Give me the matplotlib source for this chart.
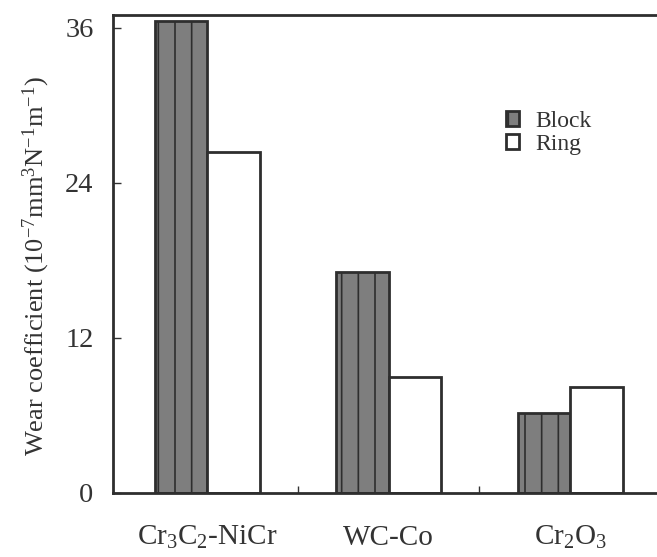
import numpy as np
import matplotlib
matplotlib.use("Agg")
import matplotlib.pyplot as plt

plt.rcParams['font.family'] = ['Liberation Serif', 'DejaVu Serif']
plt.rcParams['mathtext.fontset'] = 'custom'
plt.rcParams['mathtext.rm'] = 'Liberation Serif'
plt.rcParams['mathtext.it'] = 'Liberation Serif:italic'
plt.rcParams['hatch.color'] = '#9a9a9a'
plt.rcParams['hatch.linewidth'] = 1.2

# 数据
coatings = ['Cr$_3$C$_2$-NiCr', 'WC-Co', 'Cr$_2$O$_3$']
block = [36.5, 17.1, 6.2]
ring = [26.4, 9.0, 8.2]
yticks = [0, 12, 24, 36]

x = np.arange(len(coatings))
w = 0.29
edge = '#2e2e2e'
tc = '#333333'

fig = plt.figure(figsize=(6.57, 5.57), dpi=100)
ax = fig.add_axes([0.172, 0.115, 0.889, 0.858])

ax.bar(x - w / 2, block, w, color='#7e7e7e', edgecolor=edge, linewidth=2,
       hatch='|', label='Block')
ax.bar(x + w / 2, ring, w, color='white', edgecolor=edge, linewidth=2,
       label='Ring')

ax.set_xlim(-0.52, 2.7)
ax.set_ylim(0, 37)

ax.set_yticks(yticks)
ax.tick_params(axis='y', direction='in', length=6, width=1, pad=14,
               labelsize=20.5, colors=tc)

# 组间的小刻度
ax.set_xticks([0.5, 1.5])
ax.set_xticklabels([])
ax.tick_params(axis='x', direction='in', length=5, width=1, colors=tc)
for xi, name in zip(x, coatings):
    ax.text(xi, -4.0, name, ha='center', va='baseline', fontsize=21,
            color=tc)

fig.text(36 / 657, 1 - 266 / 557,
         'Wear coefficient (10$^{-7}$mm$^3$N$^{-1}$m$^{-1}$)',
         rotation=90, ha='center', va='center', fontsize=19, color=tc)

for s in ['left', 'bottom', 'top']:
    ax.spines[s].set_linewidth(2)
    ax.spines[s].set_color(edge)
ax.spines['right'].set_visible(False)

leg = ax.legend(loc='upper left', bbox_to_anchor=(506 / 657, 1 - 111 / 557),
                bbox_transform=fig.transFigure,
                frameon=False, fontsize=17, handlelength=0.55,
                handleheight=0.6, handletextpad=0.7, labelspacing=0.08,
                borderaxespad=0, borderpad=0)
for t in leg.get_texts():
    t.set_color(tc)

plt.savefig('out.png', dpi=100)
